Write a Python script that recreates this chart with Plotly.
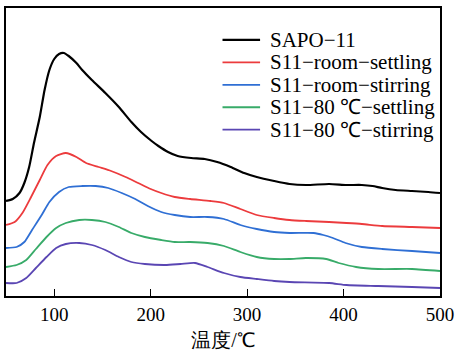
import plotly.graph_objects as go

names = ["SAPO−11", "S11−room−settling", "S11−room−stirring",
         "S11−80 ℃−settling", "S11−80 ℃−stirring"]
colors = ["#000000", "#ec3b3d", "#2f6fd4", "#38ab69", "#5a46b3"]
x_ticks = [100, 200, 300, 400, 500]

black_t = [50, 57, 64, 69, 74, 79, 85, 90, 95, 100, 105, 110, 115, 123, 129, 139, 153, 167, 180, 190, 201, 208, 218, 228, 242, 256, 269, 283, 297, 310, 328, 344, 361, 385, 403, 419, 430, 440, 454, 471, 488, 500]
black_y = [95, 97, 103, 113, 129, 153, 179, 206, 226, 237, 242, 243, 240, 233, 226, 216, 203, 189, 174, 164, 155, 150, 144, 140, 138, 137, 134, 129, 123, 119, 115, 112, 111, 112, 111, 111, 110, 108, 106, 105, 104, 103]

red_t = [50, 59, 67, 76, 85, 93, 102, 112, 123, 133, 146, 159, 174, 187, 200, 211, 225, 241, 262, 276, 293, 310, 328, 344, 361, 385, 403, 419, 440, 471, 500]
red_y = [71, 74, 83, 99, 116, 131, 140, 143, 139, 133, 129, 125, 119, 113, 107, 103, 99, 97, 95, 93, 87, 81, 78, 76, 75, 74, 73, 72, 70, 69, 68]

blue_t = [50, 61, 69, 77, 87, 95, 105, 115, 129, 143, 156, 170, 184, 197, 211, 225, 241, 259, 276, 293, 310, 328, 344, 369, 379, 389, 402, 419, 440, 471, 500]
blue_y = [48, 49, 54, 66, 81, 94, 104, 109, 110, 110, 108, 103, 97, 90, 84, 81, 79, 79, 77, 71, 67, 64, 63, 63, 61, 58, 53, 49, 47, 45, 43]

green_t = [50, 61, 71, 81, 92, 102, 112, 126, 139, 153, 167, 180, 194, 211, 225, 241, 259, 276, 293, 310, 328, 344, 361, 382, 395, 413, 436, 471, 500]
green_y = [29, 31, 36, 47, 59, 68, 73, 76, 76, 74, 69, 63, 59, 56, 54, 54, 53, 50, 44, 39, 37, 37, 38, 37, 33, 29, 27, 27, 25]

purple_t = [50, 61, 71, 81, 92, 102, 112, 126, 139, 153, 167, 180, 194, 215, 231, 246, 259, 276, 293, 310, 328, 344, 385, 403, 436, 471, 500]
purple_y = [13, 13, 18, 28, 39, 48, 52, 53, 51, 46, 39, 34, 32, 31, 32, 33, 29, 23, 19, 17, 15, 14, 13, 11, 10, 9, 8]

series = [(black_t, black_y), (red_t, red_y), (blue_t, blue_y),
          (green_t, green_y), (purple_t, purple_y)]
widths = [2.2, 1.8, 1.8, 1.8, 1.8]

serif = "'Liberation Serif', 'Times New Roman', serif"

fig = go.Figure()
for (t, y), n, c, w in zip(series, names, colors, widths):
    fig.add_trace(go.Scatter(x=t, y=y, mode="lines", name=n,
                             line=dict(color=c, width=w, shape="spline", smoothing=0.6)))

# legend drawn as line samples + labels (paper coordinates)
plot_top, plot_h = 8, 288.7
row_px = [40, 62.5, 85, 107.5, 130]
for i, (n, c) in enumerate(zip(names, colors)):
    yp = 1 - (row_px[i] - plot_top) / plot_h
    fig.add_shape(type="line", xref="paper", yref="paper",
                  x0=(225 - 6) / 439, x1=(263 - 6) / 439, y0=yp, y1=yp,
                  line=dict(color=c, width=widths[i]))
    fig.add_annotation(xref="paper", yref="paper", x=(271 - 6) / 439, y=yp,
                       xanchor="left", yanchor="middle", text=n, showarrow=False,
                       font=dict(family=serif, size=21, color="black"))

fig.update_layout(
    width=460, height=354,
    margin=dict(l=6, r=15, t=8, b=57),
    paper_bgcolor="white", plot_bgcolor="white",
    font=dict(family=serif, size=19, color="black"),
    showlegend=False,
    xaxis=dict(range=[50, 500], tickvals=x_ticks,
               ticks="inside", ticklen=7, tickwidth=1.2, tickcolor="black",
               showline=True, linecolor="black", linewidth=1.5, mirror=True,
               showgrid=False, zeroline=False,
               tickfont=dict(family=serif, size=19, color="black"),
               title=dict(text="温度/℃", font=dict(family=serif, size=20, color="black"), standoff=9)),
    yaxis=dict(range=[0, 288], showticklabels=False, ticks="",
               showline=True, linecolor="black", linewidth=1.5, mirror=True,
               showgrid=False, zeroline=False),
)

fig.write_html("out.html", post_script="document.body.style.margin='0';",
               config={"displayModeBar": False})
